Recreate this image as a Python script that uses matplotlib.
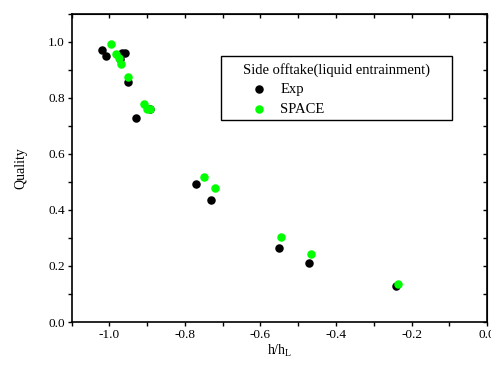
import matplotlib
matplotlib.use('Agg')
import matplotlib.pyplot as plt
from matplotlib.ticker import MultipleLocator, FormatStrFormatter
from matplotlib.patches import Rectangle

plt.rcParams['font.family'] = 'Liberation Serif'
plt.rcParams['mathtext.fontset'] = 'custom'
plt.rcParams['mathtext.rm'] = 'Liberation Serif'

# Exp data
exp_x = [-1.020, -1.010, -0.972, -0.966, -0.960, -0.951, -0.930, -0.892,
         -0.770, -0.730, -0.552, -0.471, -0.241]
exp_y = [0.972, 0.950, 0.940, 0.962, 0.962, 0.858, 0.728, 0.760,
         0.492, 0.437, 0.264, 0.212, 0.127]

# SPACE data
space_x = [-0.996, -0.983, -0.976, -0.970, -0.951, -0.908, -0.900, -0.892,
           -0.750, -0.721, -0.545, -0.465, -0.236]
space_y = [0.992, 0.956, 0.944, 0.920, 0.876, 0.778, 0.762, 0.760,
           0.518, 0.477, 0.302, 0.242, 0.137]

fig = plt.figure(figsize=(4.91, 3.67), dpi=100)
ax = fig.add_axes([0.146, 0.1226, 0.846, 0.8395])

ax.scatter(exp_x, exp_y, s=26, color='black', label='Exp', zorder=3)
ax.scatter(space_x, space_y, s=26, color='#00ff00', label='SPACE', zorder=3)

ax.set_xlim(-1.1, 0.0)
ax.set_ylim(0.0, 1.1)
ax.xaxis.set_major_locator(MultipleLocator(0.2))
ax.xaxis.set_minor_locator(MultipleLocator(0.1))
ax.yaxis.set_major_locator(MultipleLocator(0.2))
ax.yaxis.set_minor_locator(MultipleLocator(0.1))
ax.xaxis.set_major_formatter(FormatStrFormatter('%.1f'))
ax.yaxis.set_major_formatter(FormatStrFormatter('%.1f'))
ax.tick_params(which='major', direction='out', length=3, width=1, labelsize=9.5, pad=2)
ax.tick_params(which='minor', direction='out', length=3, width=1)

# mirror ticks on top and right, pointing in
top = ax.secondary_xaxis('top')
top.xaxis.set_major_locator(MultipleLocator(0.2))
top.xaxis.set_minor_locator(MultipleLocator(0.1))
top.tick_params(which='both', direction='in', length=3, width=1, labeltop=False)
right = ax.secondary_yaxis('right')
right.yaxis.set_major_locator(MultipleLocator(0.2))
right.yaxis.set_minor_locator(MultipleLocator(0.1))
right.tick_params(which='both', direction='in', length=3, width=1, labelright=False)

for sp in ax.spines.values():
    sp.set_linewidth(1.2)

ax.set_xlabel('h/h$_\\mathregular{L}$', fontsize=10, labelpad=1)
ax.set_ylabel('Quality', fontsize=10, labelpad=15)

# legend box drawn separately, legend text placed inside it
ax.add_patch(Rectangle((0.3595, 0.656), 0.556, 0.2078, transform=ax.transAxes,
                       facecolor='white', edgecolor='black', linewidth=1.0,
                       zorder=4))
leg = ax.legend(title='Side offtake(liquid entrainment)', loc='upper left',
                bbox_to_anchor=(0.4125, 0.841), alignment='left',
                fontsize=10.5, title_fontsize=10.5, frameon=False,
                borderpad=0, borderaxespad=0,
                handletextpad=0.35, labelspacing=0.42, handlelength=2.2)
leg.set_zorder(5)

fig.savefig('out.png', dpi=100)
